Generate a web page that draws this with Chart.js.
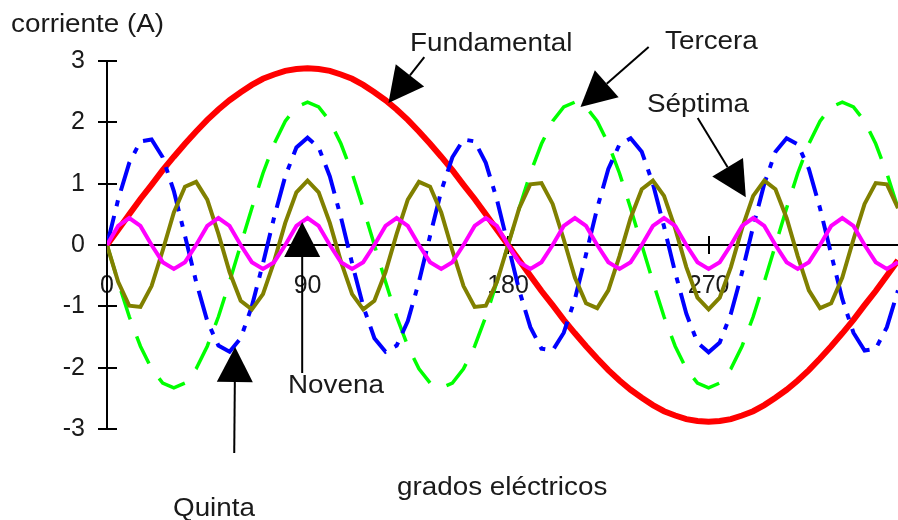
<!DOCTYPE html>
<html><head><meta charset="utf-8">
<script src="https://cdn.jsdelivr.net/npm/chart.js@4/dist/chart.umd.min.js"></script>
<style>html,body{margin:0;padding:0;background:#fff}canvas{display:block}</style>
</head><body>
<canvas id="c" width="898" height="520"></canvas>
<script>
// grados eléctricos (eje x)
const degrees = [0,5,10,15,20,25,30,35,40,45,50,55,60,65,70,75,80,85,90,95,100,105,110,115,120,125,130,135,140,145,150,155,160,165,170,175,180,185,190,195,200,205,210,215,220,225,230,235,240,245,250,255,260,265,270,275,280,285,290,295,300,305,310,315,320,325,330,335,340,345,350,355,360];
const xTickValues = [0,90,180,270];
const yTickValues = [-3,-2,-1,0,1,2,3];

const fundamental = [0,0.25,0.5,0.75,0.98,1.22,1.44,1.65,1.85,2.04,2.21,2.36,2.49,2.61,2.71,2.78,2.84,2.87,2.88,2.87,2.84,2.78,2.71,2.61,2.49,2.36,2.21,2.04,1.85,1.65,1.44,1.22,0.98,0.75,0.5,0.25,0,-0.25,-0.5,-0.75,-0.98,-1.22,-1.44,-1.65,-1.85,-2.04,-2.21,-2.36,-2.49,-2.61,-2.71,-2.78,-2.84,-2.87,-2.88,-2.87,-2.84,-2.78,-2.71,-2.61,-2.49,-2.36,-2.21,-2.04,-1.85,-1.65,-1.44,-1.22,-0.98,-0.75,-0.5,-0.25,0];
const tercera = [0,-0.6,-1.17,-1.65,-2.02,-2.25,-2.33,-2.25,-2.02,-1.65,-1.17,-0.6,0,0.6,1.17,1.65,2.02,2.25,2.33,2.25,2.02,1.65,1.17,0.6,0,-0.6,-1.17,-1.65,-2.02,-2.25,-2.33,-2.25,-2.02,-1.65,-1.17,-0.6,0,0.6,1.17,1.65,2.02,2.25,2.33,2.25,2.02,1.65,1.17,0.6,0,-0.6,-1.17,-1.65,-2.02,-2.25,-2.33,-2.25,-2.02,-1.65,-1.17,-0.6,0,0.6,1.17,1.65,2.02,2.25,2.33,2.25,2.02,1.65,1.17,0.6,0];
const quinta = [0,0.74,1.34,1.69,1.72,1.43,0.88,0.15,-0.6,-1.24,-1.64,-1.74,-1.52,-1.0,-0.3,0.45,1.12,1.59,1.75,1.59,1.12,0.45,-0.3,-1.0,-1.52,-1.74,-1.64,-1.24,-0.6,0.15,0.88,1.43,1.72,1.69,1.34,0.74,0,-0.74,-1.34,-1.69,-1.72,-1.43,-0.88,-0.15,0.6,1.24,1.64,1.74,1.52,1.0,0.3,-0.45,-1.12,-1.59,-1.75,-1.59,-1.12,-0.45,0.3,1.0,1.52,1.74,1.64,1.24,0.6,-0.15,-0.88,-1.43,-1.72,-1.69,-1.34,-0.74,0];
const septima = [0,-0.6,-0.99,-1.01,-0.67,-0.09,0.53,0.95,1.03,0.74,0.18,-0.44,-0.91,-1.05,-0.8,-0.27,0.36,0.86,1.05,0.86,0.36,-0.27,-0.8,-1.05,-0.91,-0.44,0.18,0.74,1.03,0.95,0.53,-0.09,-0.67,-1.01,-0.99,-0.6,0,0.6,0.99,1.01,0.67,0.09,-0.53,-0.95,-1.03,-0.74,-0.18,0.44,0.91,1.05,0.8,0.27,-0.36,-0.86,-1.05,-0.86,-0.36,0.27,0.8,1.05,0.91,0.44,-0.18,-0.74,-1.03,-0.95,-0.53,0.09,0.67,1.01,0.99,0.6,0];
const novena = [0,0.31,0.44,0.31,0,-0.28,-0.39,-0.28,0,0.31,0.44,0.31,0,-0.28,-0.39,-0.28,0,0.31,0.44,0.31,0,-0.28,-0.39,-0.28,0,0.31,0.44,0.31,0,-0.28,-0.39,-0.28,0,0.31,0.44,0.31,0,-0.28,-0.39,-0.28,0,0.31,0.44,0.31,0,-0.28,-0.39,-0.28,0,0.31,0.44,0.31,0,-0.28,-0.39,-0.28,0,0.31,0.44,0.31,0,-0.28,-0.39,-0.28,0,0.31,0.44,0.31,0,-0.28,-0.39,-0.28,0];

const FONT = '"Liberation Sans", Arial, sans-serif';
const toXY = arr => degrees.map((d,i)=>({x:d,y:arr[i]}));

// anotaciones: punta y cola en coordenadas de datos (grados, amperios)
const arrows = [
  {tip:[126.3,2.315], tail:[142.4,3.065]},
  {tip:[212.5,2.25],  tail:[243.1,3.23]},
  {tip:[286.7,0.78],  tail:[265.1,2.07]},
  {tip:[87.6,0.375],  tail:[87.6,-2.087]},
  {tip:[57.5,-1.663], tail:[57.1,-3.39]}
];
const labels = [
  {t:'corriente (A)', x:11, y:32},
  {t:'Fundamental', x:410, y:51},
  {t:'Tercera', x:665, y:49},
  {t:'Séptima', x:647, y:112},
  {t:'Novena', x:288, y:393},
  {t:'Quinta', x:173, y:516},
  {t:'grados eléctricos', x:397, y:495}
];

const deco = {
  id:'deco',
  beforeDatasetsDraw(chart){
    const {ctx, scales:{x,y}} = chart;
    ctx.save();
    ctx.strokeStyle='#000'; ctx.lineWidth=2;
    const x0 = x.getPixelForValue(0), y0 = y.getPixelForValue(0);
    ctx.beginPath();
    yTickValues.forEach(v=>{const py=Math.round(y.getPixelForValue(v)); ctx.moveTo(x0-9,py); ctx.lineTo(x0+10,py);});
    xTickValues.forEach(v=>{const px=Math.round(x.getPixelForValue(v)); ctx.moveTo(px,y0-9); ctx.lineTo(px,y0+9);});
    ctx.stroke();
    ctx.restore();
  },
  afterDraw(chart){
    const {ctx, scales:{x,y}} = chart;
    ctx.save();
    ctx.fillStyle='#000'; ctx.strokeStyle='#000'; ctx.lineWidth=2;
    arrows.forEach(a=>{
      const tx=x.getPixelForValue(a.tip[0]), ty=y.getPixelForValue(a.tip[1]);
      const sx=x.getPixelForValue(a.tail[0]), sy=y.getPixelForValue(a.tail[1]);
      const dx=tx-sx, dy=ty-sy, L=Math.hypot(dx,dy), ux=dx/L, uy=dy/L;
      const hl=35, hw=18;
      const bx=tx-ux*hl, by=ty-uy*hl;
      ctx.beginPath(); ctx.moveTo(sx,sy); ctx.lineTo(bx,by); ctx.stroke();
      ctx.beginPath(); ctx.moveTo(tx,ty);
      ctx.lineTo(bx-uy*hw, by+ux*hw); ctx.lineTo(bx+uy*hw, by-ux*hw); ctx.closePath(); ctx.fill();
    });
    ctx.fillStyle='#1a1a1a';
    ctx.font='26px '+FONT; ctx.textBaseline='alphabetic'; ctx.textAlign='left';
    labels.forEach(l=>{ctx.save(); ctx.translate(l.x,l.y); ctx.scale(1.07,1); ctx.fillText(l.t,0,0); ctx.restore();});
    ctx.restore();
  }
};

const mk = (data,color,width,dash,order)=>({data:toXY(data), borderColor:color, borderWidth:width, borderDash:dash, order, pointRadius:0, fill:false, tension:0, clip:0});

new Chart(document.getElementById('c'),{
  type:'line',
  data:{datasets:[
    mk(novena,'#ff00ff',4,[],1),
    mk(septima,'#808000',4,[],2),
    mk(quinta,'#0000ff',4,[30,10,6,10],3),
    mk(tercera,'#00ff00',3.5,[30,18],4),
    mk(fundamental,'#ff0000',6,[],5)
  ]},
  options:{
    responsive:false, animation:false, events:[],
    layout:{padding:{left:0,right:0,top:61,bottom:91}},
    plugins:{legend:{display:false}, tooltip:{enabled:false}, title:{display:false}},
    scales:{
      x:{type:'linear', min:0, max:355, position:{y:0},
        grid:{display:false, drawTicks:false}, border:{display:true, color:'#000', width:2},
        ticks:{autoSkip:false, maxRotation:0, padding:26, color:'#1a1a1a', font:{family:FONT, size:25}},
        afterBuildTicks(s){ s.ticks = xTickValues.map(v=>({value:v})); },
        afterFit(s){s.paddingLeft=0; s.paddingRight=0;}
      },
      y:{type:'linear', min:-3, max:3,
        grid:{display:false, drawTicks:false}, border:{display:true, color:'#000', width:2},
        ticks:{stepSize:1, padding:22, color:'#1a1a1a', font:{family:FONT, size:25}},
        afterFit(s){s.width=107;}
      }
    }
  },
  plugins:[deco]
});
</script>
</body></html>
